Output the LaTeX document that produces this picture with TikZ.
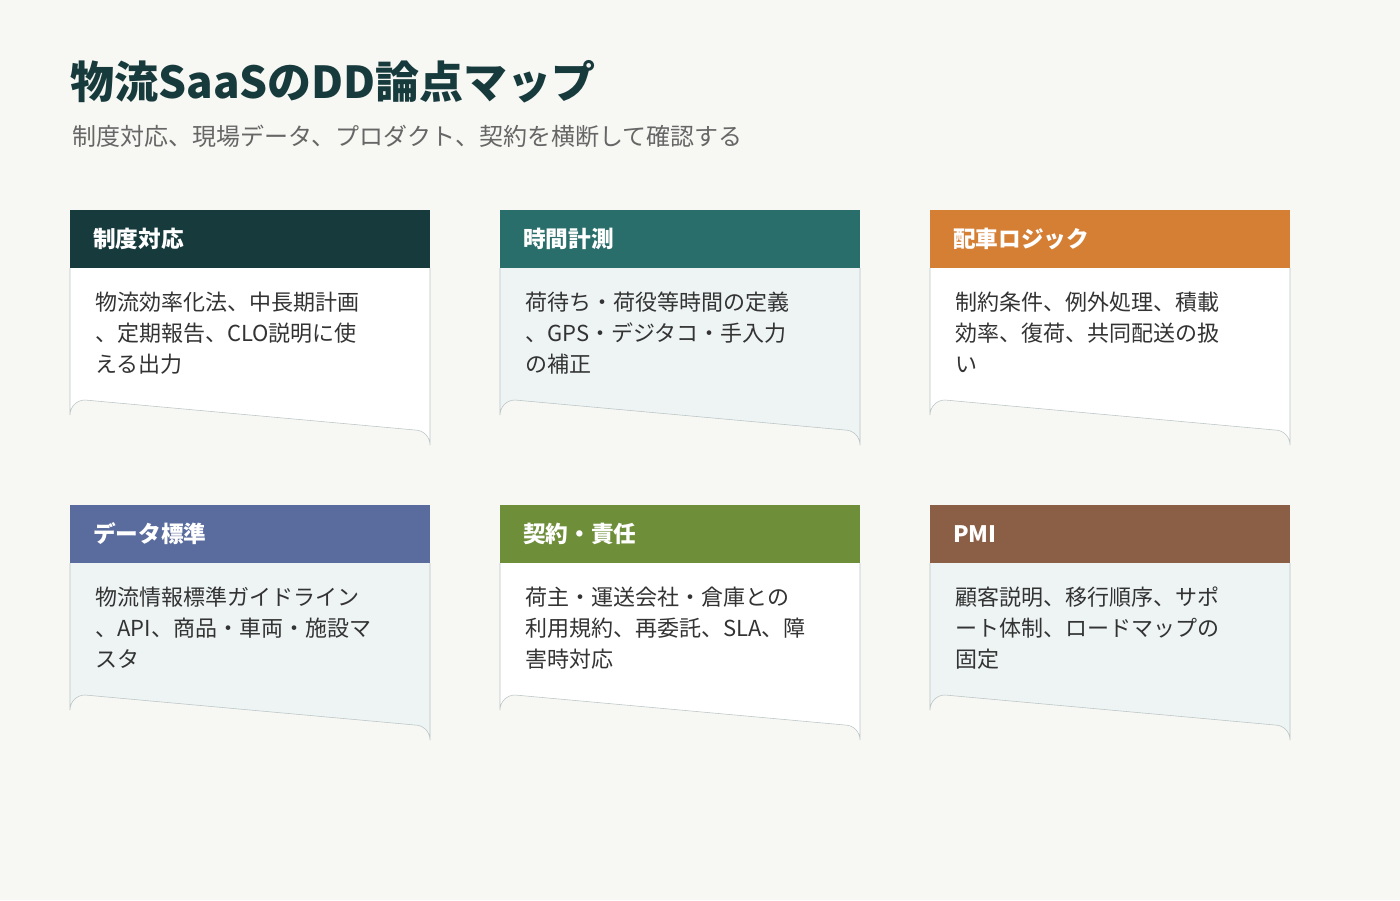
\documentclass[tikz,border=0pt]{standalone}
\usepackage{fontspec}
\setmainfont{Noto Sans CJK JP}
\definecolor{bg}{HTML}{F7F7F3}
\definecolor{titlec}{HTML}{173A3C}
\definecolor{subc}{HTML}{666666}
\definecolor{bord}{HTML}{B9C4C4}
\definecolor{lite}{HTML}{EEF4F4}
\definecolor{txt}{HTML}{333333}
\definecolor{h1}{HTML}{173A3C}
\definecolor{h2}{HTML}{2A6E6C}
\definecolor{h3}{HTML}{D57F35}
\definecolor{h4}{HTML}{5A6C9E}
\definecolor{h5}{HTML}{6E8E3A}
\definecolor{h6}{HTML}{8B5E46}
\tikzset{
 htext/.style={anchor=west,text=white,font=\bfseries\fontsize{17}{20}\selectfont,inner sep=0pt},
 btext/.style={anchor=north west,text=txt,align=left,font=\fontsize{16.5}{23.2}\selectfont,inner sep=0pt},
}
\newcommand{\card}[6]{%
 \fill[#4,draw=bord] (#1,#2+58) -- (#1,#2+205) arc[start angle=180,end angle=270,radius=15] -- (#1+345,#2+220) arc[start angle=270,end angle=360,radius=15] -- (#1+360,#2+58);
 \fill[#3] (#1,#2) rectangle (#1+360,#2+58);
 \node[htext] (h#1#2) at (#1+23,#2+29) {#5};
 \node[btext] (b#1#2) at (#1+25,#2+82) {#6};
}
\begin{document}
\begin{tikzpicture}[x=0.75pt,y=-0.75pt]
\fill[bg] (0,0) rectangle (1400,900);
\node[anchor=west,inner sep=0pt,text=titlec,font=\bfseries\fontsize{33}{38}\selectfont] (title) at (70,82) {物流SaaSのDD論点マップ};
\node[anchor=west,inner sep=0pt,text=subc,font=\fontsize{18}{22}\selectfont] (sub) at (72,136) {制度対応、現場データ、プロダクト、契約を横断して確認する};
\card{70}{210}{h1}{white}{制度対応}{物流効率化法、中長期計画\\、定期報告、CLO説明に使\\える出力}
\card{500}{210}{h2}{lite}{時間計測}{荷待ち・荷役等時間の定義\\、GPS・デジタコ・手入力\\の補正}
\card{930}{210}{h3}{white}{配車ロジック}{制約条件、例外処理、積載\\効率、復荷、共同配送の扱\\い}
\card{70}{505}{h4}{lite}{データ標準}{物流情報標準ガイドライン\\、API、商品・車両・施設マ\\スタ}
\card{500}{505}{h5}{white}{契約・責任}{荷主・運送会社・倉庫との\\利用規約、再委託、SLA、障\\害時対応}
\card{930}{505}{h6}{lite}{PMI}{顧客説明、移行順序、サポ\\ート体制、ロードマップの\\固定}
\end{tikzpicture}
\end{document}
